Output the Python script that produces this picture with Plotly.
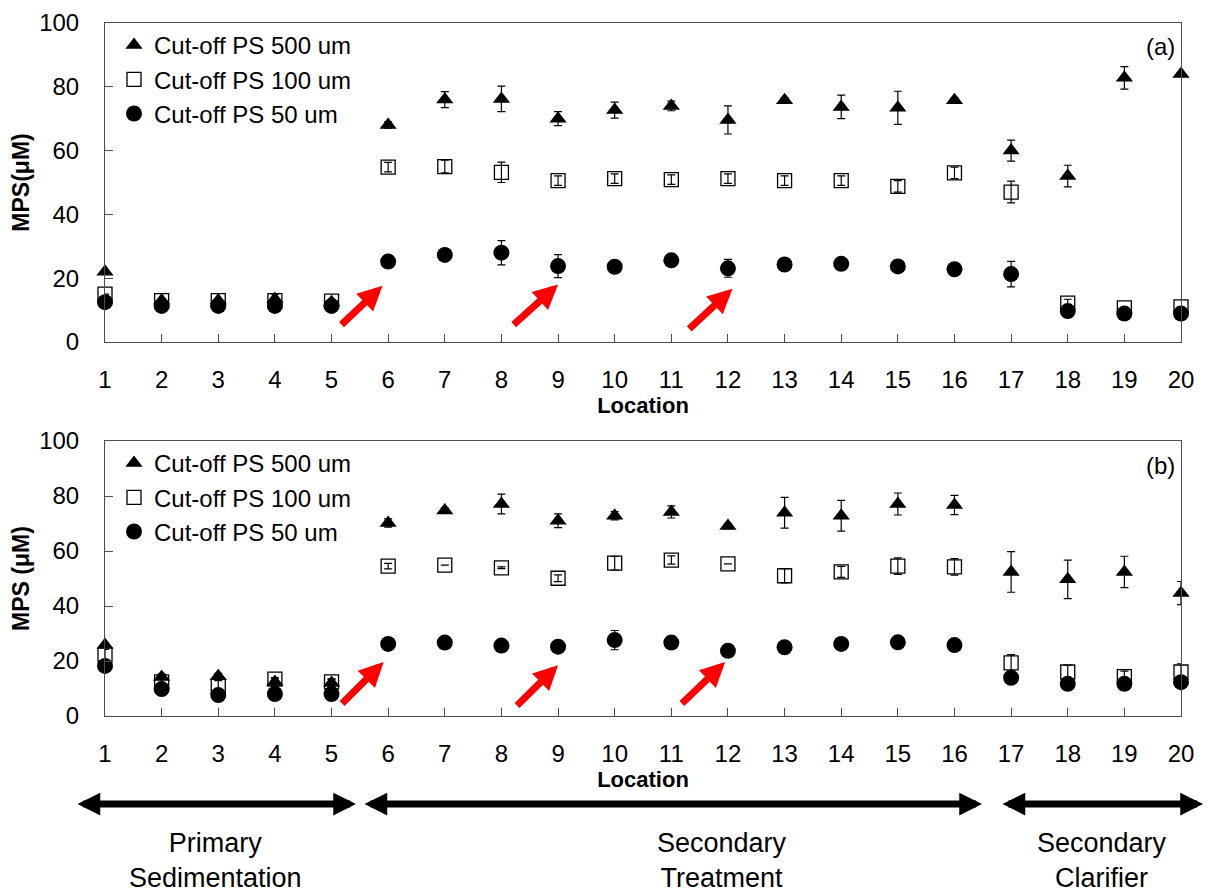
import plotly.graph_objects as go

# The page body has an 8px margin, so the figure is drawn 8px in from the window corner.
PAGE_OFF = 8
W, H = 1212 - PAGE_OFF, 893 - PAGE_OFF

def px_x(px):
    return (px - PAGE_OFF) / W

def px_y(py):
    return 1 - (py - PAGE_OFF) / H

locations = list(range(1, 21))
tick_labels = [str(i) for i in locations]

# Panel (a)
a_500 = [22, 13, 13, 13.5, 12.5, 68, 76, 76.2, 70, 72.7, 74, 69.6, 75.8, 73.7, 73.4, 75.8, 60, 52, 82.8, 84]
a_500_err = [0, 0, 0, 1.5, 0, 1, 2.5, 4, 2.2, 2.5, 1.5, 4.4, 0.8, 3.7, 5.2, 0.8, 3.3, 3.4, 3.5, 0]
a_100 = [15, 13, 13, 13, 12.8, 54.8, 55, 53.2, 50.6, 51.2, 50.9, 51.2, 50.6, 50.6, 48.8, 53, 47, 12.2, 10.7, 11]
a_100_err = [0, 0, 0, 0, 0, 1.5, 2, 3.2, 1.5, 1.5, 1.5, 1.5, 1.5, 1.5, 1.8, 1.8, 3.4, 1.2, 0, 0]
a_50 = [12.5, 11.3, 11.3, 11.3, 11.3, 25.2, 27.3, 28, 23.8, 23.6, 25.6, 23.1, 24.3, 24.5, 23.7, 22.8, 21.3, 9.7, 8.9, 8.9]
a_50_err = [0, 0, 0, 0, 0, 1, 0, 3.8, 3.6, 0, 0.6, 2.8, 1.5, 0, 0.6, 0, 4, 0, 0, 0]

# Panel (b)
b_500 = [25.8, 14.2, 14.5, 12.4, 12, 70.2, 74.7, 77.1, 71, 72.8, 74.2, 69.1, 73.9, 72.8, 77.1, 76.7, 52.4, 49.7, 52.4, 44.7]
b_500_err = [0, 1, 1, 1.5, 1.5, 1.5, 1, 3.6, 2.5, 1.5, 2.2, 1, 5.6, 5.6, 4, 3.5, 7.4, 7, 5.7, 4.2]
b_100 = [22.2, 12.4, 10.9, 13.4, 12.4, 54.5, 54.9, 53.9, 50.1, 55.6, 56.7, 55.3, 51, 52.4, 54.5, 54.2, 19.3, 16, 14.3, 16]
b_100_err = [2, 2, 2, 0.5, 1, 1, 0, 0.3, 1.2, 2.5, 1.5, 0, 2.6, 2, 3, 3, 3, 2.5, 2, 3]
b_50 = [18.2, 9.8, 7.6, 8, 8, 26.2, 26.7, 25.6, 25.2, 27.6, 26.7, 23.7, 25, 26.2, 26.8, 25.8, 13.9, 11.7, 11.7, 12.3]
b_50_err = [0, 0, 0, 0, 0, 0, 0, 0, 1.5, 3.5, 0, 0, 0, 0, 1.5, 0, 0, 0, 0, 0]

series_names = ["Cut-off PS 500 um", "Cut-off PS 100 um", "Cut-off PS 50 um"]

# red arrows: (tail x, tail y) -> (tip x, tip y) in data units
red_arrows_a = [((5.15, 5.0), (5.90, 17.6)), ((8.19, 5.0), (9.0, 18.0)), ((11.29, 3.7), (12.08, 16.7))]
red_arrows_b = [((5.16, 4.0), (5.92, 19.6)), ((8.25, 3.3), (9.0, 18.5)), ((11.16, 4.0), (11.95, 19.6))]

stages = ["Primary<br>Sedimentation", "Secondary<br>Treatment", "Secondary<br>Clarifier"]
stage_spans_px = [(76, 356), (363, 982), (1001, 1203)]
stage_label_x_px = [215, 722, 1102]

FONT = "Liberation Sans, Arial, sans-serif"
AXC = "#4d4d4d"

fig = go.Figure()

styles = [
    dict(symbol="triangle-up", size=15, color="black"),
    dict(symbol="square-open", size=14, color="black", line=dict(width=1.3, color="black")),
    dict(symbol="circle", size=16, color="black"),
]

panels = [
    ("x", "y", "legend", [a_500, a_100, a_50], [a_500_err, a_100_err, a_50_err]),
    ("x2", "y2", "legend2", [b_500, b_100, b_50], [b_500_err, b_100_err, b_50_err]),
]
for xa, ya, leg, ys, es in panels:
    for name, yv, ev, st in zip(series_names, ys, es, styles):
        fig.add_trace(go.Scatter(
            x=locations, y=yv, mode="markers", name=name,
            marker=st, xaxis=xa, yaxis=ya, legend=leg, cliponaxis=False,
            error_y=dict(type="data", array=ev, visible=True, color="black", thickness=1.2, width=4),
        ))

xdom = [px_x(105), px_x(1181)]
ydom_a = [px_y(342), px_y(23)]
ydom_b = [px_y(716), px_y(441)]

def xaxis_cfg():
    return dict(domain=xdom, range=[1, 20], tickmode="array", tickvals=locations, ticktext=tick_labels,
                ticks="inside", ticklen=8, tickcolor=AXC, showline=True, linecolor=AXC, linewidth=1,
                mirror=True, showgrid=False, zeroline=False, ticklabelstandoff=16, automargin=False,
                ticklabeloverflow="allow",
                tickfont=dict(size=24, family=FONT, color="black"),
                title=dict(text="<b>Location</b>", font=dict(size=22, family=FONT, color="black"), standoff=2))

def yaxis_cfg(dom, title):
    return dict(domain=dom, range=[0, 100], dtick=20, ticks="inside", ticklen=8, tickcolor=AXC,
                showline=True, linecolor=AXC, linewidth=1, mirror=True, showgrid=False, zeroline=False,
                ticklabelstandoff=20, automargin=False, ticklabeloverflow="allow",
                tickfont=dict(size=24, family=FONT, color="black"),
                title=dict(text="<b>" + title + "</b>", font=dict(size=23, family=FONT, color="black"), standoff=4))

annotations = []
for (tx, ty), (hx, hy) in red_arrows_a:
    annotations.append(dict(xref="x", yref="y", axref="x", ayref="y", x=hx, y=hy, ax=tx, ay=ty,
                            text="", showarrow=True, arrowhead=2, arrowsize=0.7, arrowwidth=7, arrowcolor="#ff0000"))
for (tx, ty), (hx, hy) in red_arrows_b:
    annotations.append(dict(xref="x2", yref="y2", axref="x2", ayref="y2", x=hx, y=hy, ax=tx, ay=ty,
                            text="", showarrow=True, arrowhead=2, arrowsize=0.7, arrowwidth=7, arrowcolor="#ff0000"))

annotations.append(dict(xref="paper", yref="paper", x=px_x(1160), y=px_y(47), text="(a)", showarrow=False,
                        xanchor="center", yanchor="middle", font=dict(size=24, family=FONT, color="black")))
annotations.append(dict(xref="paper", yref="paper", x=px_x(1160), y=px_y(465), text="(b)", showarrow=False,
                        xanchor="center", yanchor="middle", font=dict(size=24, family=FONT, color="black")))

for (x0, x1), lx, lab in zip(stage_spans_px, stage_label_x_px, stages):
    annotations.append(dict(xref="paper", yref="paper", x=px_x(x1), y=px_y(804), ax=-(x1 - x0), ay=0,
                            axref="pixel", ayref="pixel", text="", showarrow=True,
                            arrowhead=2, arrowsize=0.65, arrowwidth=7, arrowcolor="black",
                            arrowside="end+start", startarrowhead=2, startarrowsize=0.65))
    annotations.append(dict(xref="paper", yref="paper", x=px_x(lx), y=px_y(860), text=lab, showarrow=False,
                            xanchor="center", yanchor="middle",
                            font=dict(size=27, family=FONT, color="black")))

legend_cfg = dict(xanchor="left", yanchor="top", bgcolor="rgba(0,0,0,0)", borderwidth=0,
                  font=dict(size=24, family=FONT, color="black"), itemclick=False)

fig.update_layout(
    width=W, height=H,
    margin=dict(l=0, r=0, t=0, b=0, autoexpand=False),
    paper_bgcolor="white", plot_bgcolor="white",
    font=dict(family=FONT, color="black"),
    xaxis=dict(**xaxis_cfg(), anchor="y"),
    yaxis=dict(**yaxis_cfg(ydom_a, "MPS(μM)"), anchor="x"),
    xaxis2=dict(**xaxis_cfg(), anchor="y2"),
    yaxis2=dict(**yaxis_cfg(ydom_b, "MPS (μM)"), anchor="x2"),
    legend=dict(x=px_x(114), y=px_y(23), **legend_cfg),
    legend2=dict(x=px_x(114), y=px_y(441), **legend_cfg),
    annotations=annotations,
    showlegend=True,
)

fig.write_html("out.html")
